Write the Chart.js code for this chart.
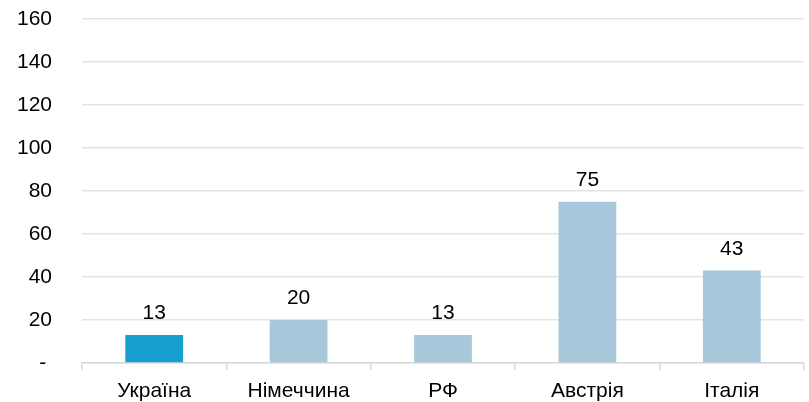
<!DOCTYPE html>
<html>
<head>
<meta charset="utf-8">
<script src="https://cdn.jsdelivr.net/npm/chart.js@4"></script>
<style>
    html, body { margin: 0; padding: 0; background: #fff; }
    #wrap { width: 809px; height: 402px; }
</style>
</head>
<body>
<div id="wrap"><canvas id="chart"></canvas></div>
<script>
const countries = ['Україна', 'Німеччина', 'РФ', 'Австрія', 'Італія'];
const values = [13, 20, 13, 75, 43];
const barColors = ['#17a0cf', '#a7c8db', '#a7c8db', '#a7c8db', '#a7c8db'];
const yTicks = [0, 20, 40, 60, 80, 100, 120, 140, 160];

const FONT = '"Liberation Sans", Arial, sans-serif';

// simple value labels above each bar
const valueLabels = {
    id: 'valueLabels',
    afterDatasetsDraw(chart) {
        const ctx = chart.ctx;
        const meta = chart.getDatasetMeta(0);
        ctx.save();
        ctx.font = '21px ' + FONT;
        ctx.fillStyle = '#000';
        ctx.textAlign = 'center';
        ctx.textBaseline = 'alphabetic';
        meta.data.forEach((bar, i) => {
            ctx.fillText(values[i], bar.x, bar.y - 16);
        });
        ctx.restore();
    }
};

new Chart(document.getElementById('chart'), {
    type: 'bar',
    data: {
        labels: countries,
        datasets: [{
            data: values,
            backgroundColor: barColors,
            categoryPercentage: 0.4,
            barPercentage: 1.0
        }]
    },
    options: {
        responsive: true,
        maintainAspectRatio: false,
        animation: false,
        layout: { padding: { top: 19, right: 5, left: 0, bottom: 0 } },
        plugins: {
            legend: { display: false },
            tooltip: { enabled: false }
        },
        scales: {
            x: {
                grid: { drawOnChartArea: false, color: '#d9d9d9', tickLength: 7, lineWidth: 1.5 },
                border: { color: '#d9d9d9', width: 1.5 },
                ticks: { color: '#000', font: { family: FONT, size: 21 }, padding: 9, maxRotation: 0 },
                afterFit: axis => { axis.height = 39; axis.paddingLeft = 0; axis.paddingRight = 0; }
            },
            y: {
                min: 0,
                max: 160,
                afterBuildTicks: axis => { axis.ticks = yTicks.map(v => ({ value: v })); },
                grid: { color: '#e3e3e3', lineWidth: 1.5, drawTicks: false },
                border: { display: false },
                ticks: {
                    color: '#000',
                    font: { family: FONT, size: 21 },
                    padding: 30,
                    callback: v => v === 0 ? '- ' : v
                },
                afterFit: axis => { axis.width = 82; axis.paddingTop = 0; axis.paddingBottom = 0; }
            }
        }
    },
    plugins: [valueLabels]
});
</script>
</body>
</html>
